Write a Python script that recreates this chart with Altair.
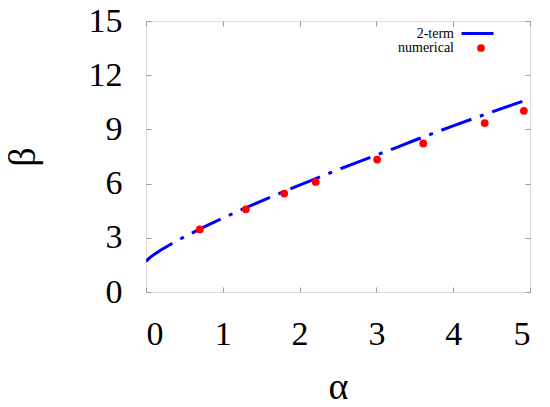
import altair as alt
import pandas as pd

# 2-term approximation
line_alpha = [0, 0.05, 0.1, 0.2, 0.3, 0.4, 0.5, 0.75, 1.0, 1.25, 1.5, 1.75, 2.0,
              2.25, 2.5, 2.75, 3.0, 3.25, 3.5, 3.75, 4.0, 4.25, 4.5, 4.75, 5.0]
line_beta = [1.70, 1.90, 2.06, 2.34, 2.59, 2.83, 3.05, 3.59, 4.09, 4.57, 5.03, 5.48, 5.92,
             6.35, 6.77, 7.18, 7.58, 7.98, 8.40, 8.80, 9.20, 9.58, 9.96, 10.33, 10.70]
# numerical points
num_alpha = [0.70, 1.30, 1.80, 2.21, 3.01, 3.61, 4.41, 4.92]
num_beta = [3.46, 4.58, 5.45, 6.09, 7.33, 8.22, 9.35, 10.03]

x_ticks = [0, 1, 2, 3, 4, 5]
y_ticks = [0, 3, 6, 9, 12, 15]
series_line = "2-term"
series_num = "numerical"

FONT = "Liberation Serif"

df_line = pd.DataFrame({"alpha": line_alpha, "beta": line_beta, "series": series_line})
df_num = pd.DataFrame({"alpha": num_alpha, "beta": num_beta, "series": series_num})

xscale = alt.Scale(domain=[0, 5], nice=False, zero=False)
yscale = alt.Scale(domain=[0, 15], nice=False, zero=False)

tick_common = dict(offset=-5, tickSize=5, tickColor="#999999", tickWidth=1,
                   domain=False, grid=False)

line = alt.Chart(df_line).mark_line(strokeWidth=3, strokeDash=[32, 9, 4, 9], clip=True).encode(
    x=alt.X("alpha:Q", scale=xscale,
            axis=alt.Axis(orient="bottom", values=x_ticks, title="α", labelPadding=25,
                          labelFont=FONT, labelFontSize=34, labelColor="black",
                          titleFont=FONT, titleFontSize=38, titleFontWeight="normal",
                          titleColor="black", titlePadding=17, **tick_common)),
    y=alt.Y("beta:Q", scale=yscale,
            axis=alt.Axis(orient="left", values=y_ticks, title="β", labelPadding=24,
                          labelFont=FONT, labelFontSize=34, labelColor="black",
                          titleFont=FONT, titleFontSize=38, titleFontWeight="normal",
                          titleColor="black", titlePadding=46, **tick_common)),
    color=alt.Color("series:N", scale=alt.Scale(domain=[series_line], range=["#0000ff"]),
                    legend=alt.Legend(title=None, orient="none", legendX=314, legendY=-5,
                                      symbolType="stroke", symbolSize=1024,
                                      symbolStrokeWidth=3, symbolDash=[1, 0],
                                      labelAlign="right", labelOffset={"expr": "-41"},
                                      labelFont=FONT, labelFontSize=14, labelColor="black",
                                      padding=0)),
)

points = alt.Chart(df_num).mark_circle(size=60, opacity=1).encode(
    x=alt.X("alpha:Q", scale=xscale,
            axis=alt.Axis(orient="top", values=x_ticks, labels=False, title=None, **tick_common)),
    y=alt.Y("beta:Q", scale=yscale,
            axis=alt.Axis(orient="right", values=y_ticks, labels=False, title=None, **tick_common)),
    color=alt.Color("series:N", scale=alt.Scale(domain=[series_num], range=["#ff0000"]),
                    legend=alt.Legend(title=None, orient="none", legendX=328, legendY=20,
                                      symbolType="circle", symbolSize=60,
                                      labelAlign="right", labelOffset={"expr": "-34"},
                                      labelFont=FONT, labelFontSize=14, labelColor="black",
                                      padding=0)),
)

chart = alt.layer(line, points).resolve_axis(
    x="independent", y="independent"
).resolve_scale(color="independent").properties(
    width=384, height=271,
    padding={"left": 138, "top": 13, "right": 4, "bottom": 107},
    autosize=alt.AutoSizeParams(type="none"),
).configure_view(stroke="black", strokeWidth=1.5).configure(background="white")

chart.save("out.html", embed_options={"renderer": "svg", "actions": False})
